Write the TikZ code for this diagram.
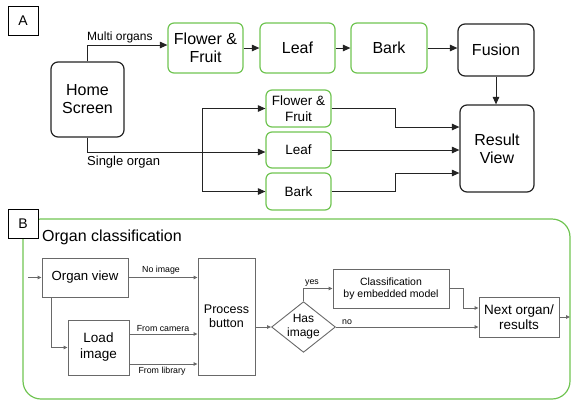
\documentclass[tikz,border=0pt]{standalone}
\usepackage{fontspec}
\setmainfont{Liberation Sans}
\usetikzlibrary{arrows.meta,shapes.geometric,calc}
\definecolor{gborder}{RGB}{112,196,82}
\definecolor{ablack}{RGB}{35,35,35}
\definecolor{bgray}{RGB}{105,105,105}
\newcommand{\fs}[2]{\fontsize{#1}{#2}\selectfont}
\begin{document}
\begin{tikzpicture}[x=1pt,y=-1pt,
  abox/.style={draw=ablack,line width=1.2pt,rounded corners=7pt,align=center,inner sep=0pt,text=black},
  gbox/.style={draw=gborder,line width=1.2pt,rounded corners=6pt,align=center,inner sep=0pt,text=black},
  bbox/.style={draw=bgray,line width=0.9pt,align=center,inner sep=0pt,text=black,fill=white},
  letterbox/.style={draw=black,line width=0.8pt,fill=white,minimum width=30pt,minimum height=29pt,inner sep=0pt,font=\fs{14}{16}},
  aarr/.style={draw=ablack,line width=1pt,-{Triangle[length=7.5pt,width=6.5pt]}},
  aline/.style={draw=ablack,line width=1pt},
  barr/.style={draw=bgray,line width=0.9pt,-{Triangle[length=4pt,width=3.5pt]}},
  lbl/.style={inner sep=0pt,text=black}
]
\useasboundingbox (0,0) rectangle (571,400);

% ---------- Part A ----------
\node[letterbox] (A) at (23,20.5) {A};
\node[abox,minimum width=73pt,minimum height=75pt,font=\fs{16}{18}] (home) at (87.5,99.5) {Home\\Screen};
\node[gbox,minimum width=75pt,minimum height=50pt,font=\fs{16}{18}] (ff) at (205.5,48) {Flower \&\\Fruit};
\node[gbox,minimum width=75pt,minimum height=50pt,font=\fs{16}{18}] (leaf) at (297.5,48) {Leaf};
\node[gbox,minimum width=76pt,minimum height=50pt,font=\fs{16}{18}] (bark) at (389,48) {Bark};
\node[abox,minimum width=76pt,minimum height=52pt,font=\fs{16}{18}] (fusion) at (496,50) {Fusion};
\node[abox,minimum width=74pt,minimum height=87pt,font=\fs{16}{18}] (result) at (497,148.5) {Result\\View};
\node[gbox,minimum width=65pt,minimum height=37pt,font=\fs{13.5}{15.5}] (sff) at (298.5,108.5) {Flower \&\\Fruit};
\node[gbox,minimum width=65pt,minimum height=36pt,font=\fs{13.5}{15.5}] (sleaf) at (298.5,150) {Leaf};
\node[gbox,minimum width=65pt,minimum height=37pt,font=\fs{13.5}{15.5}] (sbark) at (298.5,191.5) {Bark};

\draw[aarr] (home.north) |- ([yshift=3pt]ff.west);
\node[lbl,anchor=south west,font=\fs{12}{14}] (multi) at (87,43) {Multi organs};
\draw[aarr] (ff.east) -- (leaf.west);
\draw[aarr] (leaf.east) -- (bark.west);
\draw[aarr] (bark.east) -- (bark.east -| fusion.west);
\draw[aarr] (fusion.south -| result.north) ++(-1,0) -- ([xshift=-1pt]result.north);

\draw[aarr] (home.south) |- ([yshift=-2pt]sleaf.west);
\node[lbl,anchor=north west,font=\fs{13}{15}] (single) at (87,156) {Single organ};
\coordinate (jn) at (202,152);
\draw[aline] (jn |- sff.west) -- (jn |- sbark.west);
\draw[aarr] (jn |- sff.west) -- (sff.west);
\draw[aarr] (jn |- sbark.west) -- (sbark.west);

\draw[aarr] (sff.east) -- ++(64,0) |- ([yshift=21.5pt]result.west);
\draw[aarr] (sleaf.east) -- (sleaf.east -| result.west);
\draw[aarr] (sbark.east) -- ++(64,0) |- ([yshift=-24.5pt]result.west);

% ---------- Part B ----------
\draw[draw=gborder,line width=1.2pt,rounded corners=18pt] (23,219) rectangle (570,399);
\node[letterbox] (B) at (23,223.5) {B};
\node[lbl,anchor=west,font=\fs{16}{18}] (title) at (42,237) {Organ classification};

\node[bbox,minimum width=86pt,minimum height=39pt,font=\fs{13.2}{15}] (ov) at (85,277.5) {Organ view};
\node[bbox,minimum width=57pt,minimum height=117pt,font=\fs{12.5}{14.5}] (pb) at (226.5,316.5) {Process\\button};
\node[bbox,minimum width=61pt,minimum height=55pt,font=\fs{13.5}{16}] (li) at (98.5,347.5) {Load\\image};
\node[bbox,diamond,aspect=1.26,minimum width=63pt,minimum height=50pt,font=\fs{12}{14}] (hi) at (303.5,327) {Has\\image};
\node[bbox,minimum width=116pt,minimum height=39pt,font=\fs{10.5}{12}] (cls) at (391,288.5) {Classification\\by embedded model};
\node[bbox,minimum width=80pt,minimum height=40pt,font=\fs{13.5}{15.5}] (nx) at (519,317) {Next organ/\\results};

\coordinate (entry) at (28,277.5);
\coordinate (exit) at (570,317);
\draw[barr] (entry) -- (ov.west);
\draw[barr] (ov.east) -- (ov.east -| pb.west);
\node[lbl,anchor=south,font=\fs{8.8}{10}] (noimg) at (161,274.5) {No image};
\draw[barr] ([xshift=-34pt]ov.south) |- (li.west);
\draw[barr] ([yshift=13.5pt]li.east) -- ([yshift=13.5pt]li.east -| pb.west);
\node[lbl,anchor=south,font=\fs{8.8}{10}] (cam) at (163,331.5) {From camera};
\draw[barr] ([yshift=-16.5pt]li.east) -- ([yshift=-16.5pt]li.east -| pb.west);
\node[lbl,anchor=north,font=\fs{8.8}{10}] (lib) at (162,367) {From library};
\draw[barr] (pb.east |- hi.west) -- (hi.west);
\draw[barr] (hi.north) |- (cls.west);
\node[lbl,anchor=south west,font=\fs{8.8}{10}] (yes) at (305,286.5) {yes};
\draw[barr] (cls.east) -- ++(14,0) |- ([yshift=9pt]nx.west);
\draw[barr] (hi.east) -- (hi.east -| nx.west);
\node[lbl,anchor=south west,font=\fs{8.8}{10}] (no) at (342,325) {no};
\draw[barr] (nx.east) -- (exit);
\end{tikzpicture}
\end{document}
